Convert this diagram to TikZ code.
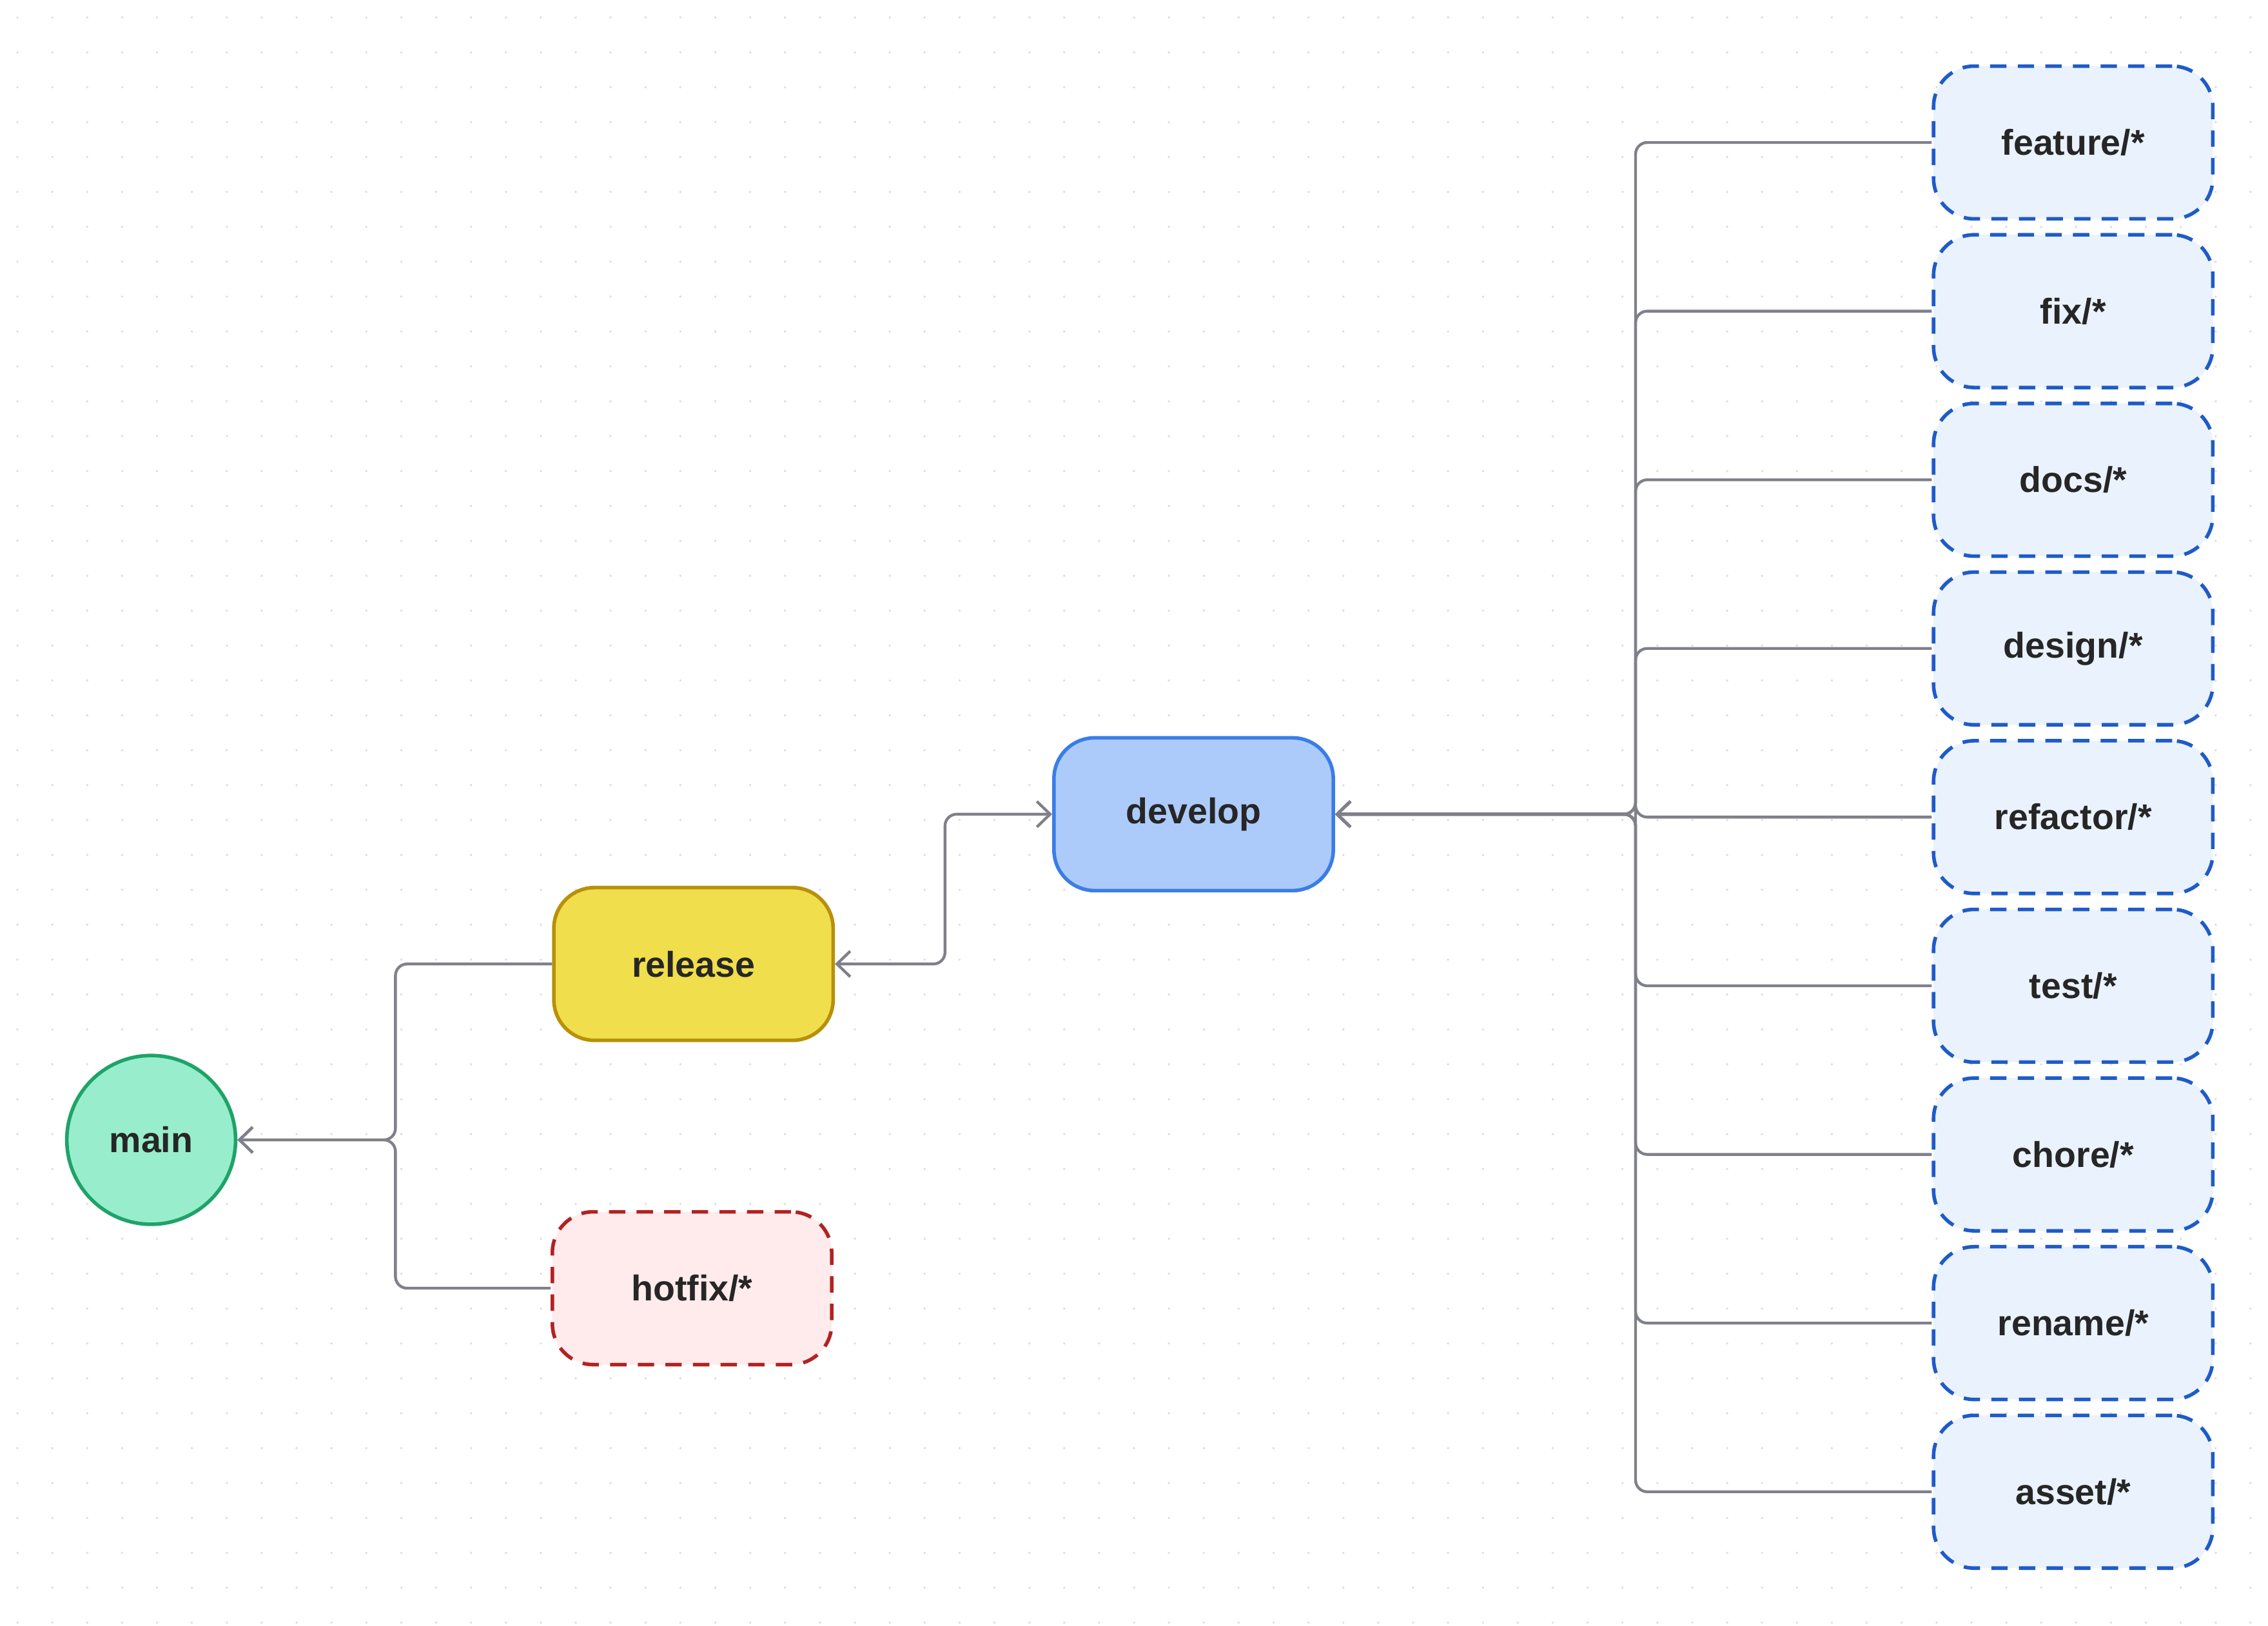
\documentclass[tikz,border=0pt]{standalone}
\usepackage{fontspec}
\setmainfont{Liberation Sans}
\usetikzlibrary{arrows.meta,positioning}
\definecolor{linegray}{RGB}{128,128,138}
\definecolor{mainfill}{RGB}{152,238,204}
\definecolor{mainline}{RGB}{31,163,106}
\definecolor{relfill}{RGB}{240,222,76}
\definecolor{relline}{RGB}{184,144,10}
\definecolor{devfill}{RGB}{173,203,250}
\definecolor{devline}{RGB}{59,125,232}
\definecolor{hotfill}{RGB}{255,235,235}
\definecolor{hotline}{RGB}{178,34,34}
\definecolor{brfill}{RGB}{234,242,253}
\definecolor{brline}{RGB}{31,91,200}
\definecolor{dotgray}{RGB}{222,222,226}

\tikzset{
  box/.style={rectangle,rounded corners=0.28cm,minimum width=1.92cm,minimum height=1.05cm,
    line width=0.7pt,font=\fontsize{7}{8}\selectfont\bfseries,text=black!85},
  dashbox/.style={box,dash pattern=on 3.2pt off 2.2pt},
  link/.style={draw=linegray,line width=0.55pt,rounded corners=0.08cm},
  tip/.style={-{Straight Barb[length=2.6pt,width=5pt]}}
}

\begin{document}
\begin{tikzpicture}[x=0.01cm,y=-0.01cm]
\useasboundingbox (0,0) rectangle (1560,1118);
% Dot grid
\foreach \i in {0,...,64} {
  \foreach \j in {0,...,46} {
    \fill[dotgray] (12+24*\i,12+24*\j) circle (0.25pt);
  }
}

% Nodes
\node[circle,minimum size=1.16cm,line width=0.7pt,draw=mainline,fill=mainfill,
  font=\fontsize{7}{8}\selectfont\bfseries,text=black!85] (main) at (104,784) {main};
\node[box,draw=relline,fill=relfill] (rel) at (477,663) {release};
\node[dashbox,draw=hotline,fill=hotfill] (hot) at (476,886) {hotfix/*};
\node[box,draw=devline,fill=devfill] (dev) at (821,560) {develop};

\foreach \name/\txt/\y in {feat/feature/98,fix/fix/214,docs/docs/330,design/design/446,
  refac/refactor/562,test/test/678,chore/chore/794,ren/rename/910,asset/asset/1026} {
  \node[dashbox,draw=brline,fill=brfill] (\name) at (1426,\y) {\txt/*};
}

% Connectors
\coordinate (trunkL) at (272,784);
\coordinate (trunkR) at (1125,560);
\coordinate (midRD) at (650,611);

\draw[link,tip] (rel.west) -| (trunkL) -- (main.east);
\draw[link,tip] (hot.west) -| (trunkL) -- (main.east);
\draw[link,{Straight Barb[length=2.6pt,width=5pt]}-{Straight Barb[length=2.6pt,width=5pt]}]
  (rel.east) -| (midRD) |- (dev.west);
\foreach \name in {feat,fix,docs,design,refac,test,chore,ren,asset} {
  \draw[link,tip] (\name.west) -| (trunkR) -- (dev.east);
}
\end{tikzpicture}
\end{document}
